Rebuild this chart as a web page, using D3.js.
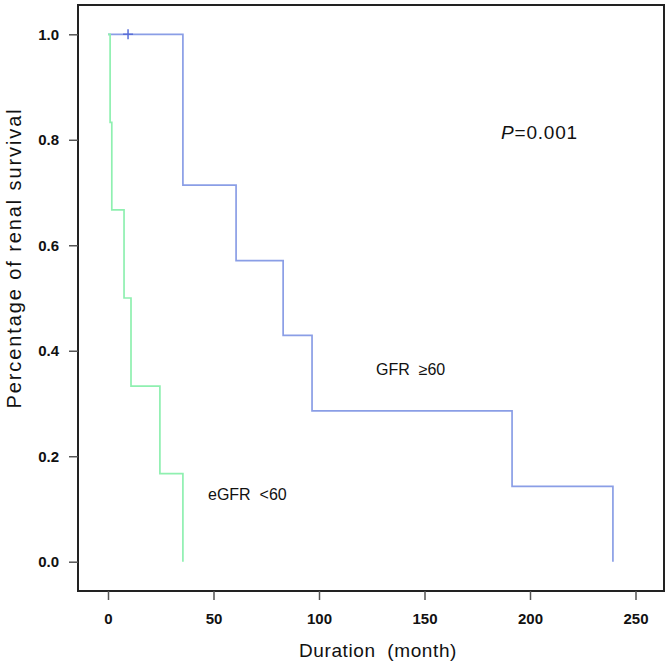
<!DOCTYPE html>
<html><head><meta charset="utf-8">
<script src="https://cdn.jsdelivr.net/npm/d3@7"></script>
<style>body{margin:0;background:#fff}svg{display:block}text{font-family:"Liberation Sans",Arial,sans-serif;white-space:pre}</style>
</head><body>
<script>
// Data (Kaplan–Meier step points: time in months, survival)
const highTimes = [0, 35.5, 60.7, 83, 96.7, 191.5, 239.3];
const highSurv  = [1.0, 0.714, 0.571, 0.429, 0.286, 0.143, 0.0];
const highCensor = [9.5];
const lowTimes = [0, 1.0, 1.8, 7.6, 10.9, 24.6, 35.5];
const lowSurv  = [1.0, 0.833, 0.667, 0.5, 0.333, 0.167, 0.0];
const xTicks = [0, 50, 100, 150, 200, 250];
const yTicks = [0.0, 0.2, 0.4, 0.6, 0.8, 1.0];

const W = 666, H = 664;
const svg = d3.select("body").append("svg").attr("width", W).attr("height", H);
const box = {l: 78, r: 664, t: 5, b: 591};
const x = d3.scaleLinear().domain([0, 250]).range([108, 635.5]);
const y = d3.scaleLinear().domain([0, 1]).range([561.7, 34.3]);

// frame
svg.append("rect").attr("x", box.l).attr("y", box.t).attr("width", box.r - box.l).attr("height", box.b - box.t)
  .attr("fill", "none").attr("stroke", "#222").attr("stroke-width", 2);

// axes
const xAxis = d3.axisBottom(x).tickValues(xTicks).tickSize(9).tickPadding(13).tickFormat(d3.format("d"));
const gx = svg.append("g").attr("transform", `translate(0,${box.b})`).call(xAxis);
gx.select(".domain").remove();
gx.selectAll(".tick line").attr("stroke", "#555").attr("stroke-width", 1.5);
gx.selectAll(".tick text").attr("font-size", 15).attr("font-weight", "bold").attr("fill", "#111");

const yAxis = d3.axisLeft(y).tickValues(yTicks).tickSize(9).tickPadding(10).tickFormat(d3.format(".1f"));
const gy = svg.append("g").attr("transform", `translate(${box.l},0)`).call(yAxis);
gy.select(".domain").remove();
gy.selectAll(".tick line").attr("stroke", "#555").attr("stroke-width", 1.5);
gy.selectAll(".tick text").attr("font-size", 15).attr("font-weight", "bold").attr("fill", "#111");

// titles
svg.append("text").attr("x", 378).attr("y", 657).attr("text-anchor", "middle")
  .attr("font-size", 19).attr("letter-spacing", 0.6).attr("fill", "#111").text("Duration  (month)");
svg.append("text").attr("transform", `translate(21,${258}) rotate(-90)`).attr("text-anchor", "middle")
  .attr("font-size", 20).attr("letter-spacing", 1.9).attr("fill", "#111").text("Percentage of renal survival");

// step curves
const line = d3.line().x(d => x(d[0])).y(d => y(d[1])).curve(d3.curveStepAfter);
const stepData = (times, surv) => times.map((t, i) => [t, surv[i]]);
svg.append("path").datum(stepData(highTimes, highSurv)).attr("d", line)
  .attr("fill", "none").attr("stroke", "#8a9ee6").attr("stroke-width", 1.7);
svg.append("path").datum(stepData(lowTimes, lowSurv)).attr("d", line)
  .attr("fill", "none").attr("stroke", "#8ff0b0").attr("stroke-width", 1.7);

// censor marks
highCensor.forEach(t => {
  const cx = x(t), cy = y(1.0);
  svg.append("path").attr("d", `M${cx-5},${cy}H${cx+5}M${cx},${cy-5}V${cy+5}`)
    .attr("stroke", "#5a6fd8").attr("stroke-width", 1.5);
});

// annotations
const p = svg.append("text").attr("x", 501).attr("y", 139).attr("font-size", 19).attr("letter-spacing", 0.8).attr("fill", "#111");
p.append("tspan").attr("font-style", "italic").text("P");
p.append("tspan").text("=0.001");
svg.append("text").attr("x", 376).attr("y", 375).attr("font-size", 16).attr("fill", "#111").text("GFR  \u226560");
svg.append("text").attr("x", 208).attr("y", 500).attr("font-size", 16).attr("fill", "#111").text("eGFR  <60");
</script>
</body></html>
